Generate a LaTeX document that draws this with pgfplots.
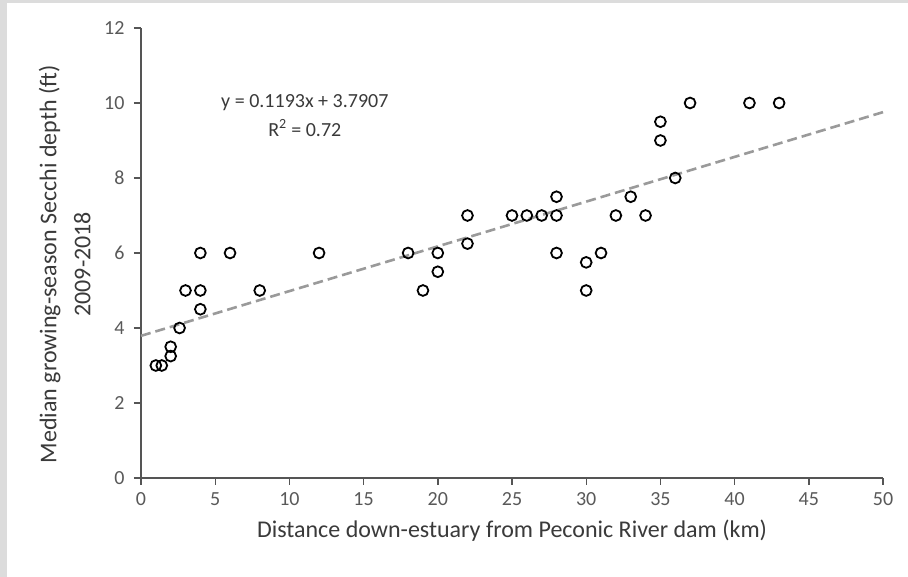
\documentclass[border=0pt]{standalone}
\usepackage{pgfplots}
\pgfplotsset{compat=1.18}
\usepackage{fontspec}
\setmainfont{Carlito}
\definecolor{framecol}{HTML}{DCDCDC}
\definecolor{ticklab}{HTML}{595959}
\definecolor{titlecol}{HTML}{3A3A3A}
\definecolor{axcol}{HTML}{555555}
\definecolor{trendcol}{HTML}{9A9A9A}
\begin{document}
\begin{tikzpicture}[x=1pt,y=1pt]
\fill[framecol] (0,0) rectangle (908,577);
\fill[white] (7,0) rectangle (908,574);
\begin{axis}[
  at={(141pt,99pt)}, anchor=south west,
  scale only axis, width=742pt, height=450pt,
  xmin=0, xmax=50, ymin=0, ymax=12,
  xtick={0,5,...,50}, ytick={0,2,...,12},
  axis x line*=bottom, axis y line*=left,
  axis line style={axcol, line width=1.6pt},
  tick style={axcol, line width=1.4pt},
  major tick length=7pt, tick align=outside,
  /pgf/number format/assume math mode=true,
  ticklabel style={font=\fontsize{20}{24}\selectfont, text=ticklab},
  xticklabel style={yshift=-4pt},
  yticklabel style={xshift=-6pt},
  xlabel={Distance down-estuary from Peconic River dam (km)},
  ylabel={Median growing-season Secchi depth (ft)\\2009-2018},
  xlabel style={at={(axis description cs:0.5,-0.116)}, anchor=center, font=\fontsize{24}{29}\selectfont, text=titlecol},
  ylabel style={at={(axis description cs:-0.103,0.475)}, anchor=center, rotate=0, align=center, font=\fontsize{24}{34}\selectfont, text=titlecol},
  clip=false,
]
\addplot[trendcol, line width=2.6pt, dash pattern=on 10pt off 5pt] coordinates {(0,3.7907) (50,9.7557)};
\addplot[only marks, mark=o, mark size=5.4pt, mark options={black, line width=1.8pt}] coordinates {
(1,3) (1.4,3) (2,3.5) (2,3.25) (2.6,4) (3,5) (4,5) (4,4.5) (4,6) (6,6) (8,5) (12,6)
(18,6) (19,5) (20,6) (20,5.5) (22,7) (22,6.25) (25,7) (26,7) (27,7) (28,7) (28,7.5) (28,6)
(30,5.75) (30,5) (31,6) (32,7) (33,7.5) (34,7) (35,9) (35,9.5) (36,8) (37,10) (41,10) (43,10)
};
\node[font=\fontsize{20}{24}\selectfont, text=titlecol] at (axis cs:11.04,10.0) {y = 0.1193x + 3.7907};
\node[font=\fontsize{20}{24}\selectfont, text=titlecol] at (axis cs:11.04,9.33) {R\textsuperscript{2} = 0.72};
\end{axis}
\end{tikzpicture}
\end{document}
